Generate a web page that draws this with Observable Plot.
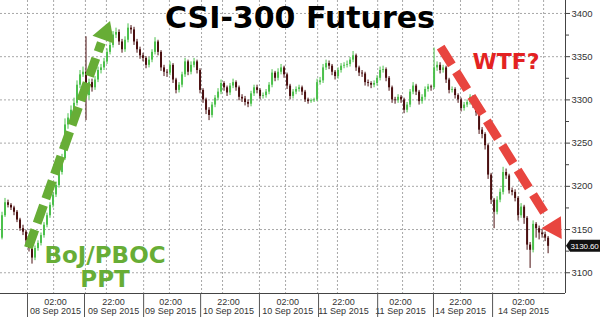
<!DOCTYPE html>
<html>
<head>
<meta charset="utf-8">
<script src="https://cdn.jsdelivr.net/npm/d3@7"></script>
<script src="https://cdn.jsdelivr.net/npm/@observablehq/plot@0.6"></script>
<style>
html,body{margin:0;padding:0;background:#fff;}
#chart svg{display:block;}
</style>
</head>
<body>
<div id="chart"></div>
<script>
// ---- data ----
const firstOpen = 3140;
const close = [3166,3181,3178,3175,3170,3161,3151,3147,3137,3128,
3117,3128,3134,3143,3155,3166,3178,3190,3201,3216,
3232,3271,3279,3288,3296,3317,3329,3332,3305,3320,
3314,3323,3334,3337,3344,3355,3363,3375,3378,3367,
3358,3369,3383,3381,3367,3358,3351,3348,3340,3346,
3355,3367,3355,3337,3332,3331,3340,3323,3311,3317,
3329,3344,3332,3340,3344,3334,3311,3300,3288,3282,
3294,3302,3309,3319,3314,3308,3316,3320,3314,3303,
3301,3297,3295,3307,3314,3311,3304,3305,3309,3317,
3331,3325,3332,3337,3329,3316,3304,3309,3312,3314,
3309,3300,3298,3299,3300,3320,3322,3337,3342,3339,
3332,3327,3334,3339,3340,3341,3346,3351,3337,3331,
3330,3320,3319,3317,3319,3325,3334,3335,3325,3314,
3300,3299,3303,3300,3288,3294,3309,3316,3309,3298,
3303,3312,3315,3314,3337,3340,3334,3337,3323,3311,
3312,3305,3300,3290,3294,3297,3303,3294,3285,3265,
3260,3247,3213,3184,3170,3184,3193,3216,3212,3195,
3193,3186,3166,3176,3163,3132,3126,3156,3151,3146,
3144,3140,3130.6];
const high = [3170,3186,3184,3180,3177,3172,3163,3155,3149,3139,
3130,3131,3137,3146,3158,3169,3181,3193,3205,3220,
3237,3278,3284,3293,3302,3322,3334,3338,3373,3324,
3324,3327,3338,3341,3348,3359,3367,3379,3383,3381,
3370,3373,3388,3386,3384,3370,3361,3354,3350,3349,
3358,3372,3369,3357,3340,3335,3344,3342,3325,3320,
3332,3348,3346,3344,3348,3346,3336,3313,3302,3291,
3297,3305,3313,3323,3321,3316,3319,3324,3322,3316,
3306,3304,3300,3310,3317,3317,3313,3308,3312,3320,
3335,3333,3336,3341,3339,3331,3318,3312,3315,3317,
3316,3311,3302,3301,3302,3324,3326,3341,3346,3345,
3341,3334,3337,3342,3343,3345,3349,3356,3353,3339,
3334,3332,3323,3321,3322,3328,3338,3339,3337,3327,
3316,3303,3306,3305,3302,3297,3312,3320,3318,3311,
3306,3315,3318,3317,3360,3344,3343,3340,3339,3325,
3315,3314,3307,3302,3297,3300,3306,3305,3296,3287,
3268,3262,3249,3215,3186,3188,3197,3222,3220,3214,
3198,3196,3188,3180,3178,3165,3135,3160,3158,3154,
3150,3147,3142];
const low = [3138,3164,3175,3172,3166,3158,3148,3143,3133,3124,
3110,3114,3125,3131,3140,3152,3163,3175,3187,3198,
3213,3230,3266,3275,3284,3293,3313,3326,3276,3300,
3309,3311,3320,3330,3334,3341,3352,3360,3371,3363,
3354,3355,3366,3376,3363,3354,3347,3344,3336,3337,
3343,3352,3351,3333,3327,3326,3328,3319,3307,3308,
3314,3326,3328,3329,3337,3330,3307,3296,3283,3276,
3279,3291,3299,3306,3310,3304,3305,3313,3310,3299,
3297,3293,3291,3292,3304,3307,3300,3301,3302,3306,
3314,3321,3322,3329,3325,3312,3300,3301,3306,3309,
3305,3297,3295,3296,3297,3298,3317,3319,3334,3335,
3328,3323,3324,3331,3336,3337,3338,3343,3333,3327,
3326,3316,3315,3313,3314,3316,3322,3331,3321,3310,
3296,3295,3296,3296,3284,3285,3291,3306,3305,3294,
3295,3300,3309,3310,3312,3333,3330,3331,3319,3307,
3308,3301,3296,3286,3287,3291,3294,3290,3281,3260,
3255,3242,3208,3179,3151,3167,3181,3190,3208,3191,
3189,3182,3160,3163,3156,3126,3105,3123,3140,3138,
3140,3136,3122];

const yTicks = [3100,3150,3200,3250,3300,3350,3400];
const yMinorTicks = [3125,3175,3225,3275,3325,3375];
const xLabelPos = [18.3,37.7,56.7,76,95.7,114.3,133.3,153.3,174.3];
const xLabels = ["02:00\n08 Sep 2015","22:00\n09 Sep 2015","02:00\n09 Sep 2015","22:00\n10 Sep 2015","02:00\n10 Sep 2015","22:00\n11 Sep 2015","02:00\n11 Sep 2015","22:00\n14 Sep 2015","02:00\n14 Sep 2015"];
const xSeparators = [9,28,47.7,66.7,86.3,106,125.7,144.3,164];
const xGrid = [9,17.7,28.3,35.3,47.7,56.3,67,74,86.3,95,105.7,112.3,125.7,134,144.3,153.3,164,172.7,181];
const xDomain = [0,188.3];
const yDomain = [3076,3415];

const greenArrow = [{x1:9.3,y1:3129,x2:33.6,y2:3366}];
const greenHead = [{x:35,y:3377}];
const redArrow = [{x1:146.7,y1:3361,x2:181.7,y2:3167}];
const redHead = [{x:184.7,y:3152}];

// ---- table ----
const bars = close.map((c,i)=>({i:i+0.5, open: i===0 ? firstOpen : close[i-1], close:c, high:high[i], low:low[i]}));
const lastClose = close[close.length-1];

const UP = "#4cc04c", DOWN = "#4a0f10";
const GREEN = "#67ad36", RED = "#e8453f";
const FONT = "'Liberation Sans Narrow','Liberation Sans',Arial,sans-serif";

const lastLabel = (index, scales, values, dim) => {
  const y = scales.y(lastClose);
  const x0 = dim.width - dim.marginRight + 1;
  const g = d3.create("svg:g");
  g.append("path")
    .attr("d", `M${x0},${y} L${x0+4},${y-6} H${dim.width} V${y+6} H${x0+4} Z`)
    .attr("fill", "#111");
  g.append("text")
    .attr("x", x0+4.5).attr("y", y).attr("dy","0.34em")
    .attr("text-anchor","start")
    .attr("fill","#fff").attr("font-size", 8).attr("letter-spacing", "-0.1")
    .attr("font-family", FONT)
    .text(lastClose.toFixed(2));
  return g.node();
};

const chart = Plot.plot({
  width: 600,
  height: 317,
  marginLeft: 0,
  marginRight: 35,
  marginTop: 0,
  marginBottom: 24,
  style: {fontFamily: FONT, fontSize: "9px", color: "#333", background: "#fff", overflow: "visible"},
  x: {type: "linear", domain: xDomain},
  y: {domain: yDomain},
  marks: [
    Plot.ruleY(yTicks, {stroke: "#a8a8a8", strokeDasharray: "2,2"}),
    Plot.ruleX(xGrid, {stroke: "#a8a8a8", strokeDasharray: "2,2"}),
    // candles
    Plot.ruleX(bars, {filter: d => d.close >= d.open, x: "i", y1: "low", y2: "high", stroke: UP, strokeWidth: 1}),
    Plot.ruleX(bars, {filter: d => d.close < d.open, x: "i", y1: "low", y2: "high", stroke: DOWN, strokeWidth: 1}),
    Plot.ruleX(bars, {filter: d => d.close >= d.open, x: "i", y1: "open", y2: "close", stroke: UP, strokeWidth: 2}),
    Plot.ruleX(bars, {filter: d => d.close < d.open, x: "i", y1: "open", y2: "close", stroke: DOWN, strokeWidth: 2}),
    // annotation arrows
    Plot.link(greenArrow, {x1:"x1", y1:"y1", x2:"x2", y2:"y2", stroke: GREEN, strokeWidth: 9, strokeDasharray: "19,7"}),
    Plot.dot(greenHead, {x:"x", y:"y", symbol:"triangle", r: 8.5, fill: GREEN, stroke: "none", rotate: 20}),
    Plot.link(redArrow, {x1:"x1", y1:"y1", x2:"x2", y2:"y2", stroke: RED, strokeWidth: 9, strokeDasharray: "21,8"}),
    Plot.dot(redHead, {x:"x", y:"y", symbol:"triangle", r: 8.5, fill: RED, stroke: "none", rotate: 148}),
    // texts
    Plot.text(["CSI-300 Futures"], {frameAnchor: "top-left", dx: 299.5, dy: 27, textAnchor: "middle", lineAnchor: "bottom", fontSize: 30, fontWeight: "bold", fontFamily: "DejaVu Sans", fill: "#000"}),
    Plot.text(["BoJ/PBOC"], {frameAnchor: "top-left", dx: 104.5, dy: 262, textAnchor: "middle", lineAnchor: "bottom", fontSize: 23, fontWeight: "bold", fontFamily: "DejaVu Sans", fill: GREEN}),
    Plot.text(["PPT"], {frameAnchor: "top-left", dx: 104.5, dy: 286, textAnchor: "middle", lineAnchor: "bottom", fontSize: 23, fontWeight: "bold", fontFamily: "DejaVu Sans", fill: GREEN}),
    Plot.text(["WTF?"], {frameAnchor: "top-left", dx: 505.5, dy: 68, textAnchor: "middle", lineAnchor: "bottom", fontSize: 22, fontWeight: "bold", fontFamily: "DejaVu Sans", fill: "#e32222"}),
    // axes
    Plot.ruleY([yDomain[0]], {stroke: "#444"}),
    Plot.ruleX([xDomain[1]], {stroke: "#444"}),
    Plot.axisY({anchor: "right", ticks: yTicks, tickSize: 4, tickPadding: 2, tickFormat: d => String(d), fontSize: 9.5, stroke: "#444", fill: "#333"}),
    Plot.axisY({anchor: "right", ticks: yMinorTicks, tickSize: 3, tickFormat: () => "", stroke: "#444"}),
    Plot.axisX({anchor: "bottom", ticks: xLabelPos, tickSize: 0, tickPadding: 4, lineHeight: 1.1, tickFormat: (d, i) => xLabels[i], fontSize: 9, fill: "#333"}),
    Plot.axisX({anchor: "bottom", ticks: xSeparators, tickSize: 24, tickFormat: () => "", stroke: "#555"}),
    lastLabel
  ]
});
document.getElementById("chart").appendChild(chart);
</script>
</body>
</html>
